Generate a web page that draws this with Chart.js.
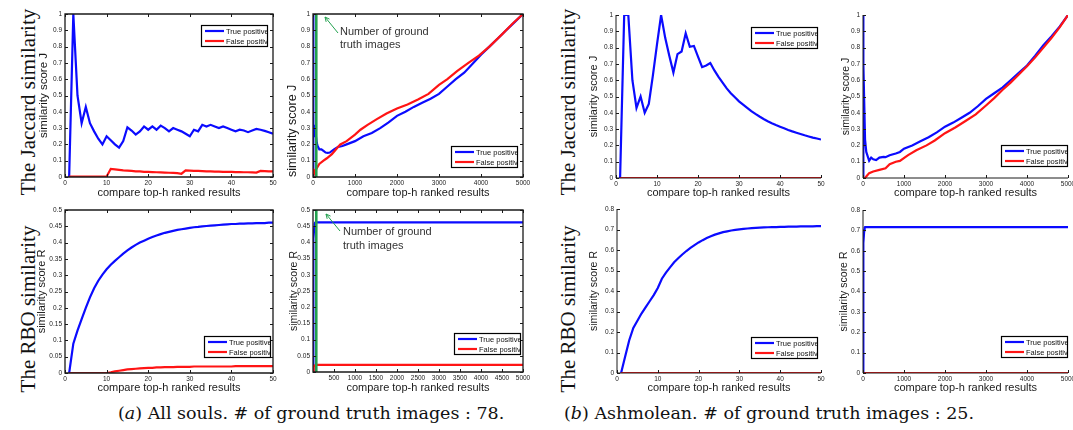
<!DOCTYPE html>
<html>
<head>
<meta charset="utf-8">
<script src="https://cdn.jsdelivr.net/npm/chart.js@4.4.1/dist/chart.umd.min.js"></script>
<style>
  html, body { margin: 0; padding: 0; background: #fff; }
  body { width: 1073px; height: 430px; position: relative; overflow: hidden; }
  canvas { position: absolute; }
  .row-label {
    position: absolute; white-space: nowrap; color: #111;
    font-family: "Liberation Serif", "Times New Roman", serif; font-size: 21px;
    transform: translate(-50%, -50%) rotate(-90deg);
  }
  .caption {
    position: absolute; white-space: nowrap; color: #111; line-height: 20px;
    font-family: "DejaVu Serif", serif; font-size: 17.5px;
  }
</style>
</head>
<body>
<div class="row-label" style="left:28px;top:102px">The Jaccard similarity</div>
<div class="row-label" style="left:28px;top:309px">The RBO similarity</div>
<div class="row-label" style="left:568px;top:102px">The Jaccard similarity</div>
<div class="row-label" style="left:568px;top:309px">The RBO similarity</div>
<div class="caption" style="left:118px;top:403px">(<i>a</i>) All souls. # of ground truth images : 78.</div>
<div class="caption" style="left:564px;top:403px">(<i>b</i>) Ashmolean. # of ground truth images : 25.</div>

<script>
// ---------- tick values ----------
const rankTicks50 = [0, 10, 20, 30, 40, 50];
const rankTicks5000 = [0, 1000, 2000, 3000, 4000, 5000];
const rankTicks5000Fine = [500, 1000, 1500, 2000, 2500, 3000, 3500, 4000, 4500, 5000];
const jaccardTicks = [0, 0.1, 0.2, 0.3, 0.4, 0.5, 0.6, 0.7, 0.8, 0.9, 1];
const rboTicksAllSouls = [0, 0.05, 0.1, 0.15, 0.2, 0.25, 0.3, 0.35, 0.4, 0.45, 0.5];
const rboTicksAshmolean = [0, 0.1, 0.2, 0.3, 0.4, 0.5, 0.6, 0.7, 0.8];

// ---------- ranks (top-h) ----------
const rankTop50 = Array.from({ length: 50 }, (_, i) => i + 1);

// ---------- All Souls, Jaccard ----------
const allSoulsJaccardTp50 = [
  0, 1.0, 0.5, 0.33, 0.43, 0.33, 0.28, 0.235, 0.2, 0.25,
  0.225, 0.2, 0.18, 0.22, 0.305, 0.285, 0.26, 0.28, 0.31, 0.29,
  0.31, 0.29, 0.315, 0.3, 0.28, 0.3, 0.29, 0.28, 0.265, 0.25,
  0.29, 0.28, 0.32, 0.31, 0.32, 0.31, 0.3, 0.31, 0.3, 0.29,
  0.28, 0.29, 0.285, 0.275, 0.285, 0.295, 0.29, 0.283, 0.275, 0.265
];
const allSoulsJaccardFp50 = [
  0.003, 0.003, 0.003, 0.003, 0.003, 0.003, 0.003, 0.003, 0.003, 0.003,
  0.05, 0.047, 0.044, 0.041, 0.039, 0.037, 0.035, 0.034, 0.032, 0.031,
  0.03, 0.029, 0.028, 0.027, 0.026, 0.025, 0.024, 0.02, 0.04, 0.039,
  0.038, 0.037, 0.036, 0.035, 0.034, 0.033, 0.033, 0.032, 0.031, 0.031,
  0.03, 0.03, 0.029, 0.029, 0.028, 0.027, 0.037, 0.036, 0.035, 0.034
];
const allSoulsJaccardTpRank5000 = [
  1, 2, 3, 4, 5, 9, 13, 15, 19, 30, 35, 50, 70, 90, 110, 150, 200, 250, 300, 350,
  400, 500, 600, 700, 800, 1000, 1200, 1400, 1600, 1800, 2000, 2200, 2400, 2600, 2800,
  3000, 3200, 3400, 3600, 3800, 4000, 4200, 4400, 4600, 4800, 5000
];
const allSoulsJaccardTp5000 = [
  0, 1.0, 0.5, 0.33, 0.43, 0.2, 0.18, 0.3, 0.31, 0.25, 0.32, 0.265, 0.25, 0.21, 0.19, 0.17, 0.17, 0.16, 0.15, 0.148,
  0.15, 0.17, 0.185, 0.19, 0.2, 0.22, 0.25, 0.27, 0.3, 0.335, 0.375, 0.4, 0.43, 0.455, 0.48,
  0.51, 0.555, 0.6, 0.64, 0.695, 0.75, 0.8, 0.85, 0.9, 0.95, 1.0
];
const allSoulsJaccardFpRank5000 = [
  1, 10, 11, 28, 29, 50, 80, 150, 250, 330, 450, 550, 650, 800, 1000, 1130, 1300, 1520,
  1750, 2000, 2250, 2500, 2750, 3000, 3200, 3430, 3700, 3950, 4200, 4500, 4750, 5000
];
const allSoulsJaccardFp5000 = [
  0.003, 0.003, 0.05, 0.02, 0.04, 0.034, 0.05, 0.08, 0.1, 0.115, 0.14, 0.17, 0.2, 0.22, 0.26, 0.29, 0.32, 0.355,
  0.39, 0.42, 0.445, 0.475, 0.51, 0.565, 0.6, 0.65, 0.7, 0.745, 0.8, 0.875, 0.94, 1.0
];

// ---------- Ashmolean, Jaccard ----------
const ashJaccardTp50 = [
  0, 1.0, 1.0, 0.6, 0.43, 0.5, 0.4, 0.455, 0.63, 0.82,
  1.0, 0.86, 0.75, 0.647, 0.76, 0.776, 0.888, 0.805, 0.81, 0.745,
  0.68, 0.69, 0.705, 0.66, 0.62, 0.585, 0.55, 0.52, 0.495, 0.47,
  0.45, 0.43, 0.41, 0.393, 0.377, 0.362, 0.348, 0.336, 0.325, 0.315,
  0.305, 0.295, 0.286, 0.278, 0.27, 0.262, 0.255, 0.248, 0.242, 0.236
];
const ashJaccardFpRank50 = [1, 50];
const ashJaccardFp50 = [0, 0];
const ashJaccardTpRank5000 = [
  1, 2, 3, 4, 5, 7, 11, 17, 23, 50, 80, 150, 200, 250, 320, 400, 500, 550, 650, 800,
  900, 1000, 1200, 1400, 1600, 1800, 2000, 2200, 2400, 2600, 2800, 3000, 3200, 3400,
  3600, 3800, 4000, 4200, 4400, 4600, 4800, 5000
];
const ashJaccardTp5000 = [
  0, 1, 1, 0.6, 0.43, 0.4, 1.0, 0.89, 0.7, 0.236, 0.16, 0.106, 0.125, 0.115, 0.11, 0.125, 0.13, 0.128, 0.14, 0.15,
  0.16, 0.18, 0.2, 0.225, 0.25, 0.28, 0.315, 0.34, 0.37, 0.4, 0.44, 0.485, 0.52, 0.555,
  0.6, 0.645, 0.69, 0.75, 0.815, 0.87, 0.93, 1.0
];
const ashJaccardFpRank5000 = [
  1, 50, 100, 150, 250, 400, 550, 650, 800, 900, 1100, 1300, 1550, 1750, 2000, 2250, 2500,
  2750, 3000, 3200, 3400, 3600, 3800, 4000, 4200, 4400, 4600, 4800, 5000
];
const ashJaccardFp5000 = [
  0, 0, 0.015, 0.03, 0.04, 0.05, 0.06, 0.085, 0.1, 0.105, 0.14, 0.17, 0.2, 0.23, 0.275, 0.31, 0.35,
  0.39, 0.445, 0.49, 0.54, 0.585, 0.635, 0.685, 0.74, 0.8, 0.86, 0.925, 1.0
];

// ---------- All Souls, RBO ----------
const allSoulsRboTp50 = [
  0, 0.09, 0.13, 0.165, 0.2, 0.232, 0.26, 0.283, 0.302, 0.318,
  0.332, 0.344, 0.355, 0.366, 0.376, 0.385, 0.393, 0.4, 0.406, 0.412,
  0.417, 0.422, 0.426, 0.43, 0.433, 0.436, 0.439, 0.441, 0.443, 0.445,
  0.447, 0.448, 0.45, 0.451, 0.452, 0.453, 0.454, 0.455, 0.456, 0.457,
  0.457, 0.458, 0.458, 0.459, 0.459, 0.46, 0.46, 0.46, 0.461, 0.461
];
const allSoulsRboFp50 = [
  0, 0, 0, 0, 0, 0, 0, 0, 0, 0,
  0.002, 0.005, 0.007, 0.009, 0.011, 0.012, 0.013, 0.014, 0.015, 0.016,
  0.016, 0.017, 0.017, 0.018, 0.018, 0.018, 0.019, 0.019, 0.019, 0.019,
  0.02, 0.02, 0.02, 0.02, 0.02, 0.02, 0.02, 0.02, 0.02, 0.02,
  0.021, 0.021, 0.021, 0.021, 0.021, 0.021, 0.021, 0.021, 0.021, 0.021
];
const allSoulsRboTpRank5000 = [1, 2, 3, 5, 10, 15, 20, 30, 40, 50, 80, 1000, 2000, 3000, 4000, 5000];
const allSoulsRboTp5000 = [0, 0.09, 0.13, 0.2, 0.318, 0.376, 0.412, 0.445, 0.457, 0.461, 0.462, 0.462, 0.462, 0.462, 0.462, 0.462];
const allSoulsRboFpRank5000 = [1, 10, 15, 20, 30, 50, 100, 1000, 2000, 3000, 4000, 5000];
const allSoulsRboFp5000 = [0, 0, 0.011, 0.016, 0.019, 0.021, 0.022, 0.022, 0.022, 0.022, 0.022, 0.022];

// ---------- Ashmolean, RBO ----------
const ashRboTp50 = [
  0, 0.08, 0.16, 0.22, 0.255, 0.29, 0.32, 0.35, 0.38, 0.415,
  0.46, 0.49, 0.515, 0.54, 0.56, 0.578, 0.595, 0.61, 0.624, 0.637,
  0.648, 0.658, 0.667, 0.675, 0.681, 0.687, 0.691, 0.695, 0.698, 0.701,
  0.703, 0.705, 0.707, 0.708, 0.709, 0.71, 0.711, 0.712, 0.712, 0.713,
  0.713, 0.714, 0.714, 0.714, 0.715, 0.715, 0.715, 0.715, 0.716, 0.716
];
const ashRboFpRank50 = [1, 50];
const ashRboFp50 = [0, 0];
const ashRboTpRank5000 = [1, 2, 3, 4, 6, 8, 10, 15, 20, 30, 40, 50, 80, 1000, 2000, 3000, 4000, 5000];
const ashRboTp5000 = [0, 0.08, 0.16, 0.22, 0.29, 0.35, 0.415, 0.56, 0.637, 0.701, 0.713, 0.716, 0.716, 0.716, 0.716, 0.716, 0.716, 0.716];
const ashRboFpRank5000 = [1, 5000];
const ashRboFp5000 = [0, 0];

// ---------- ground-truth marker (All Souls) ----------
const allSoulsGroundTruth = 78;
const gtMarkerRank = [allSoulsGroundTruth, allSoulsGroundTruth];
const gtMarkerJ = [0, 1];
const gtMarkerR = [0, 0.5];

// ---------- drawing ----------
const FONT = '"Liberation Sans", Arial, Helvetica, sans-serif';
const BLUE = '#0b0bff', RED = '#ff1414', GREEN = '#22a04e';

// MATLAB-like frame: inward ticks, optional box, inset legend, annotation
const framePlugin = {
  id: 'frame',
  afterDraw(chart, args, opts) {
    const { ctx, chartArea: a, scales: { x, y } } = chart;
    ctx.save();
    const tl = 3;
    ctx.strokeStyle = '#1a1a1a';
    ctx.lineWidth = 1;
    ctx.beginPath();
    x.ticks.forEach(t => {
      const px = Math.round(x.getPixelForValue(t.value)) + 0.5;
      ctx.moveTo(px, a.bottom); ctx.lineTo(px, a.bottom - tl);
      if (opts.boxed) { ctx.moveTo(px, a.top); ctx.lineTo(px, a.top + tl); }
    });
    y.ticks.forEach(t => {
      const py = Math.round(y.getPixelForValue(t.value)) + 0.5;
      ctx.moveTo(a.left, py); ctx.lineTo(a.left + tl, py);
      if (opts.boxed) { ctx.moveTo(a.right, py); ctx.lineTo(a.right - tl, py); }
    });
    ctx.stroke();

    ctx.lineWidth = opts.boxed ? 1.3 : 1;
    ctx.beginPath();
    if (opts.boxed) {
      ctx.rect(a.left, a.top, a.right - a.left, a.bottom - a.top);
    } else {
      ctx.moveTo(a.left, a.top); ctx.lineTo(a.left, a.bottom); ctx.lineTo(a.right, a.bottom);
    }
    ctx.stroke();

    // legend box
    if (opts.legend) {
      const lg = opts.legend, lw = 66, lh = 21;
      const lx = a.right - lg.right - lw;
      const ly = lg.corner === 'tr' ? a.top + lg.off : a.bottom - lg.off - lh;
      ctx.fillStyle = '#fff';
      ctx.fillRect(lx, ly, lw, lh);
      ctx.save();
      ctx.beginPath(); ctx.rect(lx, ly, lw, lh); ctx.clip();
      const entries = chart.data.datasets.filter(d => d.legendEntry);
      entries.forEach((d, i) => {
        const cy = ly + 6 + i * 10;
        ctx.strokeStyle = d.borderColor; ctx.lineWidth = 2.2;
        ctx.beginPath(); ctx.moveTo(lx + 4, cy); ctx.lineTo(lx + 23, cy); ctx.stroke();
        ctx.fillStyle = '#111'; ctx.font = '7.5px ' + FONT;
        ctx.textBaseline = 'middle'; ctx.textAlign = 'left';
        ctx.fillText(d.label, lx + 25, cy + 0.5);
      });
      ctx.restore();
      ctx.strokeStyle = '#000'; ctx.lineWidth = 1.2;
      ctx.strokeRect(lx + 0.5, ly + 0.5, lw, lh);
    }

    // annotation with arrow
    if (opts.note) {
      const n = opts.note;
      ctx.fillStyle = '#333'; ctx.font = '11px ' + FONT;
      ctx.textBaseline = 'middle'; ctx.textAlign = 'left';
      n.lines.forEach((t, i) => ctx.fillText(t, a.left + n.dx, a.top + n.dy + i * n.gap));
      const x1 = a.left + n.arrow[0], y1 = a.top + n.arrow[1];
      const x2 = a.left + n.arrow[2], y2 = a.top + n.arrow[3];
      const ang = Math.atan2(y2 - y1, x2 - x1);
      ctx.strokeStyle = GREEN; ctx.lineWidth = 1;
      ctx.beginPath(); ctx.moveTo(x1, y1); ctx.lineTo(x2, y2);
      ctx.moveTo(x2, y2); ctx.lineTo(x2 - 5 * Math.cos(ang - 0.45), y2 - 5 * Math.sin(ang - 0.45));
      ctx.moveTo(x2, y2); ctx.lineTo(x2 - 5 * Math.cos(ang + 0.45), y2 - 5 * Math.sin(ang + 0.45));
      ctx.stroke();
    }
    ctx.restore();
  }
};

function series(label, xs, ys, color, order, legend) {
  return {
    label,
    data: xs.map((xv, i) => ({ x: xv, y: ys[i] })),
    borderColor: color,
    borderWidth: color === GREEN ? 2.6 : 2.2,
    pointRadius: 0, fill: false, tension: 0,
    order, legendEntry: legend
  };
}

function buildPanel(p) {
  const padL = 50, padT = 8, padR = 14, axisH = 30;
  const w = p.R - p.L + padL + padR, h = p.B - p.T + padT + axisH;
  const cv = document.createElement('canvas');
  cv.width = w; cv.height = h;
  cv.style.left = (p.L - padL) + 'px';
  cv.style.top = (p.T - padT) + 'px';
  cv.style.width = w + 'px';
  cv.style.height = h + 'px';
  document.body.appendChild(cv);

  const xTitleSize = 11, yLine = p.yTitleSize * 1.2, xLine = xTitleSize * 1.2;
  const datasets = [
    series('True positive', p.tp[0], p.tp[1], BLUE, 2, true),
    series('False positive', p.fp[0], p.fp[1], RED, 1, true)
  ];
  if (p.marker) datasets.push(series('ground truth', p.marker[0], p.marker[1], GREEN, 0, false));

  new Chart(cv, {
    type: 'line',
    data: { datasets },
    plugins: [framePlugin],
    options: {
      responsive: false, animation: false, devicePixelRatio: 1,
      layout: { padding: { left: 0, top: padT, right: padR, bottom: 0 } },
      plugins: {
        legend: { display: false }, tooltip: { enabled: false },
        frame: { boxed: p.boxed, legend: p.legend, note: p.note }
      },
      scales: {
        x: {
          type: 'linear', min: p.xRange[0], max: p.xRange[1],
          grid: { display: false, drawTicks: false }, border: { display: false },
          ticks: { font: { size: 6.5, family: FONT }, color: '#222', padding: 2.5,
                   maxRotation: 0, autoSkip: false, callback: v => String(v) },
          afterBuildTicks: s => { s.ticks = p.xTicks.map(v => ({ value: v })); },
          afterFit: s => { s.height = axisH; s.paddingLeft = 0; s.paddingRight = 0; },
          title: {
            display: true, text: 'compare top-h ranked results', color: '#1a1a1a',
            font: { size: xTitleSize, family: FONT },
            padding: { top: 0, bottom: p.B + axisH - p.xTitleY - xLine / 2 }
          }
        },
        y: {
          type: 'linear', min: p.yRange[0], max: p.yRange[1],
          grid: { display: false, drawTicks: false }, border: { display: false },
          ticks: { font: { size: 6.5, family: FONT }, color: '#222', padding: 3,
                   autoSkip: false, callback: v => String(v) },
          afterBuildTicks: s => { s.ticks = p.yTicks.map(v => ({ value: v })); },
          afterFit: s => { s.width = padL; s.paddingTop = 0; s.paddingBottom = 0; },
          title: {
            display: true, text: p.yTitle, color: '#1a1a1a', align: p.yTitleAlign || 'center',
            font: { size: p.yTitleSize, family: FONT },
            padding: { top: p.yTitleX - (p.L - padL) - yLine / 2, bottom: 0 }
          }
        }
      }
    }
  });
}

const panels = [
  { L: 65, R: 273, T: 14, B: 177, xRange: [0, 50], xTicks: rankTicks50, yRange: [0, 1], yTicks: jaccardTicks,
    yTitle: 'similarity score J', yTitleX: 44, yTitleSize: 11.5, xTitleY: 193, boxed: true,
    legend: { corner: 'tr', right: 6, off: 11 },
    tp: [rankTop50, allSoulsJaccardTp50], fp: [rankTop50, allSoulsJaccardFp50] },
  { L: 313, R: 523, T: 14, B: 177, xRange: [0, 5000], xTicks: rankTicks5000, yRange: [0, 1], yTicks: jaccardTicks,
    yTitle: 'similarity score J', yTitleX: 293, yTitleSize: 12.5, yTitleAlign: 'start', xTitleY: 193, boxed: true,
    legend: { corner: 'br', right: 6, off: 10 },
    tp: [allSoulsJaccardTpRank5000, allSoulsJaccardTp5000], fp: [allSoulsJaccardFpRank5000, allSoulsJaccardFp5000],
    marker: [gtMarkerRank, gtMarkerJ],
    note: { lines: ['Number of ground', 'truth images'], dx: 27, dy: 18, gap: 13, arrow: [25, 19, 12, 3] } },
  { L: 616, R: 821, T: 15, B: 178, xRange: [0, 50], xTicks: rankTicks50, yRange: [0, 1], yTicks: jaccardTicks,
    yTitle: 'similarity score J', yTitleX: 594, yTitleSize: 11, xTitleY: 193, boxed: false,
    legend: { corner: 'tr', right: 4, off: 12 },
    tp: [rankTop50, ashJaccardTp50], fp: [ashJaccardFpRank50, ashJaccardFp50] },
  { L: 863, R: 1068, T: 15, B: 178, xRange: [0, 5000], xTicks: rankTicks5000, yRange: [0, 1], yTicks: jaccardTicks,
    yTitle: 'similarity score J', yTitleX: 846, yTitleSize: 10.5, xTitleY: 193, boxed: false,
    legend: { corner: 'br', right: 1, off: 12 },
    tp: [ashJaccardTpRank5000, ashJaccardTp5000], fp: [ashJaccardFpRank5000, ashJaccardFp5000] },
  { L: 65, R: 273, T: 210, B: 373, xRange: [0, 50], xTicks: rankTicks50, yRange: [0, 0.5], yTicks: rboTicksAllSouls,
    yTitle: 'similarity score R', yTitleX: 42, yTitleSize: 11, xTitleY: 388, boxed: true,
    legend: { corner: 'br', right: 3, off: 16 },
    tp: [rankTop50, allSoulsRboTp50], fp: [rankTop50, allSoulsRboFp50] },
  { L: 313, R: 523, T: 210, B: 372, xRange: [0, 5000], xTicks: rankTicks5000Fine, yRange: [0, 0.5], yTicks: rboTicksAllSouls,
    yTitle: 'similarity score R', yTitleX: 294, yTitleSize: 10.5, xTitleY: 388, boxed: true,
    legend: { corner: 'br', right: 3, off: 18 },
    tp: [allSoulsRboTpRank5000, allSoulsRboTp5000], fp: [allSoulsRboFpRank5000, allSoulsRboFp5000],
    marker: [gtMarkerRank, gtMarkerR],
    note: { lines: ['Number of ground', 'truth images'], dx: 30, dy: 22, gap: 14, arrow: [27, 21, 13, 4] } },
  { L: 617, R: 821, T: 209, B: 373, xRange: [0, 50], xTicks: rankTicks50, yRange: [0, 0.8], yTicks: rboTicksAshmolean,
    yTitle: 'similarity score R', yTitleX: 594, yTitleSize: 10.5, xTitleY: 388, boxed: false,
    legend: { corner: 'br', right: 4, off: 15 },
    tp: [rankTop50, ashRboTp50], fp: [ashRboFpRank50, ashRboFp50] },
  { L: 863, R: 1068, T: 210, B: 373, xRange: [0, 5000], xTicks: rankTicks5000, yRange: [0, 0.8], yTicks: rboTicksAshmolean,
    yTitle: 'similarity score R', yTitleX: 844, yTitleSize: 10.5, xTitleY: 388, boxed: false,
    legend: { corner: 'br', right: 1, off: 16 },
    tp: [ashRboTpRank5000, ashRboTp5000], fp: [ashRboFpRank5000, ashRboFp5000] }
];

panels.forEach(buildPanel);
</script>
</body>
</html>
